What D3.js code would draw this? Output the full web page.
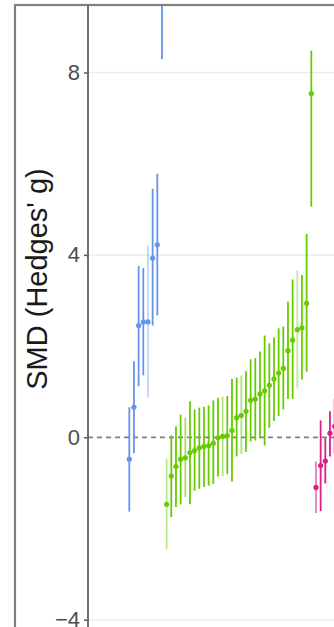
<!DOCTYPE html>
<html>
<head>
<meta charset="utf-8">
<script src="https://cdn.jsdelivr.net/npm/d3@7"></script>
<style>
  html, body { margin: 0; padding: 0; background: #fff; }
  svg { display: block; }
</style>
</head>
<body>
<div id="chart"></div>
<script>
// Standardised mean differences (Hedges' g) with 95% CIs, per study, in three groups.
const groupNames = ["A", "B", "C"];
const groupColors = ["#6495ed", "#66cc00", "#dc1f86"];

const estA = [-0.48, 0.66, 2.45, 2.53, 2.53, 3.93, 4.22, 10.7];
const loA  = [-1.63, -0.35, 1.12, 1.36, 0.87, 2.45, 2.67, 8.29];
const hiA  = [0.66, 1.67, 3.76, 3.71, 4.20, 5.45, 5.78, 13.1];
const wA   = [1, 1, 1, 1, 0.4, 1, 1, 1];

const estB = [-1.47, -0.85, -0.64, -0.48, -0.45, -0.34, -0.29, -0.23, -0.20, -0.18,
              -0.13, -0.01, 0.02, 0.04, 0.15, 0.43, 0.48, 0.57, 0.81, 0.84,
              0.95, 1.02, 1.14, 1.28, 1.41, 1.51, 1.90, 2.13, 2.36, 2.40,
              2.94, 7.54];
const loB  = [-2.45, -1.75, -1.53, -1.47, -1.31, -1.47, -1.17, -1.13, -1.09, -1.06,
              -1.02, -0.86, -0.85, -0.81, -0.97, -0.42, -0.37, -0.32, -0.09, -0.07,
              0.01, -0.18, 0.21, 0.36, 0.47, 0.61, 0.84, 0.84, 1.07, 1.27,
              1.44, 5.06];
const hiB  = [-0.48, 0.04, 0.24, 0.50, 0.43, 0.79, 0.61, 0.65, 0.67, 0.70,
              0.81, 0.87, 0.89, 0.91, 1.28, 1.31, 1.36, 1.45, 1.71, 1.74,
              1.88, 2.23, 2.06, 2.19, 2.39, 2.43, 2.97, 3.46, 3.66, 3.56,
              4.46, 8.48];
const wB   = [0.45, 1, 1, 1, 0.6, 1, 1, 1, 1, 1,
              1, 1, 0.5, 1, 1, 1, 0.5, 1, 1, 1,
              1, 1, 1, 1, 1, 1, 1, 1, 0.4, 1,
              1, 1];

const estC = [-1.10, -0.62, -0.52, 0.09, 0.24];
const loC  = [-1.66, -1.62, -1.01, -0.42, -0.35];
const hiC  = [-0.53, 0.37, -0.02, 0.57, 0.85];
const wC   = [0.6, 1, 1, 1, 1];

const yTicks = [-4, 0, 4, 8];
const yTitle = "SMD (Hedges' g)";

// Assemble one row per study, in plotting order
const rows = [];
[[estA, loA, hiA, wA], [estB, loB, hiB, wB], [estC, loC, hiC, wC]].forEach(([e, l, h, w], g) => {
  e.forEach((v, i) => rows.push({ id: groupNames[g] + (i + 1), group: g, est: v, lo: l[i], hi: h[i], w: w[i] }));
});

const W = 334, H = 627;
const axisX = 88, panelTop = 5;

const svg = d3.select("#chart").append("svg")
  .attr("width", W).attr("height", H);

const x = d3.scalePoint()
  .domain(rows.map(d => d.id))
  .range([129.3, 129.3 + 4.667 * (rows.length - 1)]);

const y = d3.scaleLinear().domain([-4, 8]).range([619.7, 72.5]);

// Outer panel frame
svg.append("rect")
  .attr("x", 15).attr("y", panelTop)
  .attr("width", 400).attr("height", 700)
  .attr("fill", "none").attr("stroke", "#808080").attr("stroke-width", 2.2);

svg.append("clipPath").attr("id", "plot-clip")
  .append("rect").attr("x", axisX).attr("y", panelTop + 1)
  .attr("width", W - axisX).attr("height", H - panelTop);

const plot = svg.append("g").attr("clip-path", "url(#plot-clip)");

// Horizontal grid lines
plot.selectAll("line.grid")
  .data(yTicks.filter(t => t !== 0))
  .join("line")
  .attr("class", "grid")
  .attr("x1", axisX).attr("x2", W)
  .attr("y1", d => y(d)).attr("y2", d => y(d))
  .attr("stroke", "#ebebeb").attr("stroke-width", 1.5);

// Reference line at zero
plot.append("line")
  .attr("x1", axisX).attr("x2", W)
  .attr("y1", y(0)).attr("y2", y(0))
  .attr("stroke", "#808080").attr("stroke-width", 1.8)
  .attr("stroke-dasharray", "5,4");

// Confidence intervals
plot.selectAll("line.ci")
  .data(rows)
  .join("line")
  .attr("class", "ci")
  .attr("x1", d => x(d.id)).attr("x2", d => x(d.id))
  .attr("y1", d => y(d.lo)).attr("y2", d => y(d.hi))
  .attr("stroke", d => groupColors[d.group])
  .attr("stroke-opacity", d => d.w)
  .attr("stroke-width", 1.8);

// Point estimates
plot.selectAll("circle.est")
  .data(rows)
  .join("circle")
  .attr("class", "est")
  .attr("cx", d => x(d.id)).attr("cy", d => y(d.est))
  .attr("r", 2.6)
  .attr("fill", d => groupColors[d.group]);

// Y axis
const yAxis = svg.append("g")
  .attr("transform", `translate(${axisX},0)`)
  .call(d3.axisLeft(y).tickValues(yTicks).tickSize(4).tickPadding(4).tickFormat(d3.format("d")));
yAxis.select(".domain").remove();
yAxis.selectAll(".tick line").attr("stroke", "#555").attr("stroke-width", 1.5);
yAxis.selectAll(".tick text")
  .attr("fill", "#4d4d4d")
  .style("font-family", "'Liberation Sans', Arial, sans-serif")
  .style("font-size", "22px");

svg.append("line")
  .attr("x1", axisX).attr("x2", axisX)
  .attr("y1", panelTop).attr("y2", H)
  .attr("stroke", "#6e6e6e").attr("stroke-width", 2);

// Axis title
svg.append("text")
  .attr("transform", "translate(47,279) rotate(-90)")
  .attr("text-anchor", "middle")
  .style("font-family", "'Liberation Sans', Arial, sans-serif")
  .style("font-size", "29px")
  .attr("fill", "#1a1a1a")
  .text(yTitle);
</script>
</body>
</html>
